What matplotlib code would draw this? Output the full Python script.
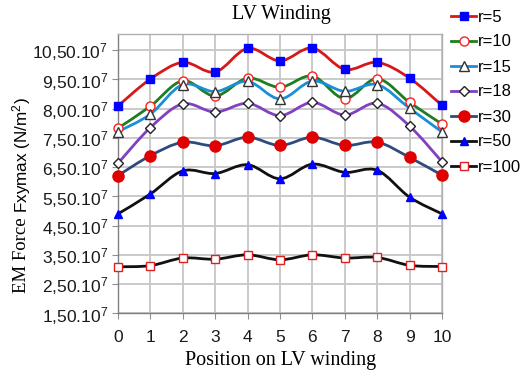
import matplotlib
matplotlib.use('Agg')
import matplotlib.pyplot as plt
from matplotlib.path import Path
from matplotlib.patches import PathPatch
from matplotlib.lines import Line2D
import numpy as np

plt.rcParams['mathtext.fontset'] = 'custom'
plt.rcParams['mathtext.rm'] = 'Liberation Sans'
plt.rcParams['mathtext.it'] = 'Liberation Sans:italic'
plt.rcParams['mathtext.bf'] = 'Liberation Sans:bold'

# ---------------- data (units of 1e7 N/m^2, on the chart's own tick scale) -------------
positions = list(range(11))
r5 = [8.59, 9.51, 10.08, 9.75, 10.56, 10.13, 10.57, 9.84, 10.08, 9.54, 8.61]
r10 = [7.83, 8.58, 9.45, 8.93, 9.54, 9.23, 9.61, 8.84, 9.52, 8.71, 7.97]
r15 = [7.71, 8.31, 9.32, 9.08, 9.43, 8.83, 9.44, 9.09, 9.32, 8.51, 7.70]
r18 = [6.63, 7.85, 8.66, 8.38, 8.68, 8.26, 8.71, 8.28, 8.68, 7.90, 6.68]
r30 = [6.21, 6.89, 7.35, 7.23, 7.52, 7.24, 7.52, 7.24, 7.35, 6.83, 6.22]
r50 = [4.90, 5.58, 6.37, 6.28, 6.58, 6.10, 6.60, 6.32, 6.39, 5.47, 4.90]
r100 = [3.09, 3.13, 3.39, 3.35, 3.50, 3.33, 3.50, 3.39, 3.41, 3.14, 3.10]
series = [r5, r10, r15, r18, r30, r50, r100]
series_labels = ['r=5', 'r=10', 'r=15', 'r=18', 'r=30', 'r=50', 'r=100']

ytick_values = [1.5, 2.5, 3.5, 4.5, 5.5, 6.5, 7.5, 8.5, 9.5, 10.5]
ytick_text = ['1,50', '2,50', '3,50', '4,50', '5,50', '6,50', '7,50', '8,00', '9,50', '10,50']
xtick_text = [str(p) for p in positions]

# ---------------- styles ----------------
styles = [
    dict(lc='#D81818', marker='s', ms=6.0, mfc='#0000FF', mec='#0000FF', mew=1.0),
    dict(lc='#1E7D1E', marker='o', ms=6.5, mfc='white', mec='#FF2020', mew=1.0),
    dict(lc='#1A8FD8', marker='^', ms=6.5, mfc='white', mec='#333333', mew=1.0),
    dict(lc='#8040C0', marker='D', ms=5.5, mfc='white', mec='#222222', mew=1.0),
    dict(lc='#2E4B7E', marker='o', ms=8.0, mfc='#E00000', mec='#E00000', mew=1.0),
    dict(lc='#111111', marker='^', ms=6.0, mfc='#0000FF', mec='#0000FF', mew=1.0),
    dict(lc='#111111', marker='s', ms=6.0, mfc='white', mec='#E02020', mew=1.0),
]


def smooth_path(xs, ys):
    pts = np.column_stack([xs, ys]).astype(float)
    n = len(pts)
    verts = [pts[0]]
    codes = [Path.MOVETO]
    for i in range(n - 1):
        p0 = pts[i - 1] if i > 0 else pts[i]
        p1 = pts[i]
        p2 = pts[i + 1]
        p3 = pts[i + 2] if i + 2 < n else pts[i + 1]
        c1 = p1 + (p2 - p0) / 6.0
        c2 = p2 - (p3 - p1) / 6.0
        verts += [c1, c2, p2]
        codes += [Path.CURVE4] * 3
    return Path(verts, codes)


W, H = 523, 372
fig = plt.figure(figsize=(W / 100, H / 100), dpi=100)
ax_l, ax_r, ax_t, ax_b = 118, 442, 34.3, 313.3
ax = fig.add_axes([ax_l / W, 1 - ax_b / H, (ax_r - ax_l) / W, (ax_b - ax_t) / H])

ax.set_xlim(0, 10)
ax.set_ylim(1.5, 11.04)
ax.set_xticks(positions)
ax.set_xticklabels(xtick_text, family='Liberation Sans', fontsize=12.5)
ax.set_yticks(ytick_values)
ax.set_yticklabels([t + '.10$^{7}$' for t in ytick_text], family='Liberation Sans', fontsize=12.5)
ax.grid(True, color='#C6C6C6', lw=1.3)
ax.set_axisbelow(True)
for s in ['left', 'bottom']:
    ax.spines[s].set_color('#808080')
    ax.spines[s].set_linewidth(1.0)
for s in ['top', 'right']:
    ax.spines[s].set_color('#B0B0B0')
    ax.spines[s].set_linewidth(1.0)
ax.tick_params(direction='out', length=4, color='#909090', pad=3, labelcolor='#1A1A1A')
ax.tick_params(axis='x', pad=8)

handles = []
for ys, st in zip(series, styles):
    ax.add_patch(PathPatch(smooth_path(positions, ys), facecolor='none',
                           edgecolor=st['lc'], lw=2.0, zorder=2, capstyle='round'))
    ax.plot(positions, ys, linestyle='none', marker=st['marker'], ms=st['ms'],
            mfc=st['mfc'], mec=st['mec'], mew=st['mew'], zorder=3, clip_on=False)
    handles.append(Line2D([], [], color=st['lc'], lw=2.0, marker=st['marker'], ms=st['ms'],
                          mfc=st['mfc'], mec=st['mec'], mew=st['mew']))

fig.legend(handles, series_labels, loc='upper left', bbox_to_anchor=(451 / W, 1 - 9.5 / H),
           frameon=False, prop=dict(family='Liberation Sans', size=12),
           handlelength=1.5, handletextpad=0.1, labelspacing=0.6,
           borderpad=0, borderaxespad=0)

fig.text(281 / W, 1 - 15 / H, 'LV Winding', ha='center', va='center',
         family='Liberation Serif', fontsize=14.5)
fig.text(281 / W, 1 - 361 / H, 'Position on LV winding', ha='center', va='center',
         family='Liberation Serif', fontsize=14.5)

t1 = fig.text(22 / W, 1 - 293 / H, 'EM Force', rotation=90, ha='center', va='bottom',
              family='Liberation Serif', fontsize=13.5)
fig.canvas.draw()
ext = t1.get_window_extent()
t2 = fig.text(22 / W, (ext.y1 + 4) / H, 'Fxymax (N/m$^{2}$)', rotation=90, ha='center',
              va='bottom', family='Liberation Sans', fontsize=12.3)

fig.savefig('out.png', dpi=100)
